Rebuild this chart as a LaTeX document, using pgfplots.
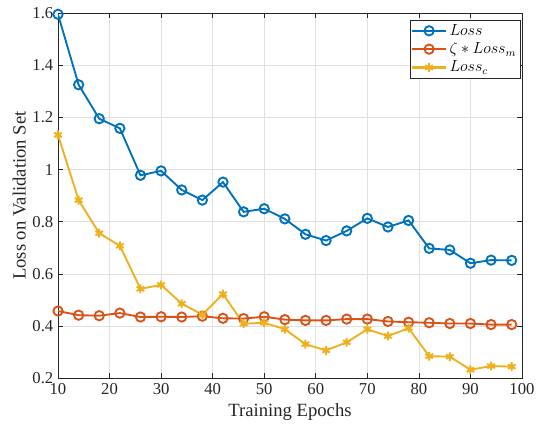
\documentclass[border=0pt]{standalone}
\usepackage{pgfplots}
\pgfplotsset{compat=1.18}
\usepackage{fontspec}
\setmainfont{Liberation Serif}
\definecolor{mblue}{rgb}{0,0.447,0.741}
\definecolor{morange}{rgb}{0.85,0.325,0.098}
\definecolor{myellow}{rgb}{0.929,0.694,0.125}
\definecolor{axgray}{rgb}{0.15,0.15,0.15}
\begin{document}
\begin{tikzpicture}
\begin{axis}[
  scale only axis,
  width=348pt, height=274pt,
  xmin=10, xmax=100, ymin=0.2, ymax=1.6,
  xtick={10,20,...,100},
  ytick={0.2,0.4,0.6,0.8,1,1.2,1.4,1.6},
  yticklabels={0.2,0.4,0.6,0.8,1,1.2,1.4,1.6},
  /pgf/number format/assume math mode=true,
  tick label style={font=\fontsize{12.5}{14}\selectfont, text=axgray},
  label style={font=\fontsize{14}{16}\selectfont, text=axgray},
  xlabel={Training Epochs},
  ylabel={Loss on Validation Set},
  grid=major,
  major grid style={color=black!12, line width=0.5pt},
  axis line style={color=axgray, line width=0.6pt},
  tick style={color=axgray, line width=0.5pt},
  tick align=inside,
  major tick length=4pt,
  xlabel style={yshift=0pt},
  ylabel style={yshift=-2pt},
  legend style={at={(rel axis cs:1,1)}, anchor=north east, xshift=-1pt, yshift=-5.25pt,
    draw=axgray, line width=0.5pt, font=\fontsize{12}{13}\selectfont,
    inner sep=1pt, row sep=0pt, cells={anchor=west}},
  legend cell align=left,
  legend image code/.code={\draw[line width=1.6pt, mark repeat=2, mark phase=2] plot coordinates {(0pt,0pt)(12.5pt,0pt)(25pt,0pt)};},
]
\addplot[color=mblue, line width=1.4pt, mark=o, mark size=3.5pt, mark options={line width=1.4pt}] coordinates {
(10,1.595)(14,1.325)(18,1.195)(22,1.158)(26,0.978)(30,0.995)(34,0.922)(38,0.883)(42,0.952)(46,0.838)(50,0.850)(54,0.811)(58,0.752)(62,0.728)(66,0.765)(70,0.813)(74,0.780)(78,0.805)(82,0.698)(86,0.692)(90,0.641)(94,0.653)(98,0.652)};
\addlegendentry{$Loss$}
\addplot[color=morange, line width=1.4pt, mark=o, mark size=3.5pt, mark options={line width=1.4pt}] coordinates {
(10,0.458)(14,0.442)(18,0.440)(22,0.450)(26,0.435)(30,0.436)(34,0.435)(38,0.438)(42,0.430)(46,0.429)(50,0.436)(54,0.425)(58,0.422)(62,0.422)(66,0.427)(70,0.427)(74,0.418)(78,0.415)(82,0.413)(86,0.410)(90,0.410)(94,0.406)(98,0.406)};
\addlegendentry{$\zeta * Loss_m$}
\addplot[color=myellow, line width=1.4pt, mark=asterisk, mark size=3.3pt, mark options={line width=1.5pt}] coordinates {
(10,1.133)(14,0.883)(18,0.756)(22,0.708)(26,0.543)(30,0.558)(34,0.486)(38,0.444)(42,0.523)(46,0.409)(50,0.413)(54,0.388)(58,0.331)(62,0.307)(66,0.338)(70,0.388)(74,0.362)(78,0.392)(82,0.285)(86,0.283)(90,0.233)(94,0.247)(98,0.245)};
\addlegendentry{$Loss_c$}
\end{axis}
\pgfresetboundingbox
\path (-43.5pt,-37.5pt) rectangle (358.5pt,283.75pt);
\end{tikzpicture}
\end{document}
